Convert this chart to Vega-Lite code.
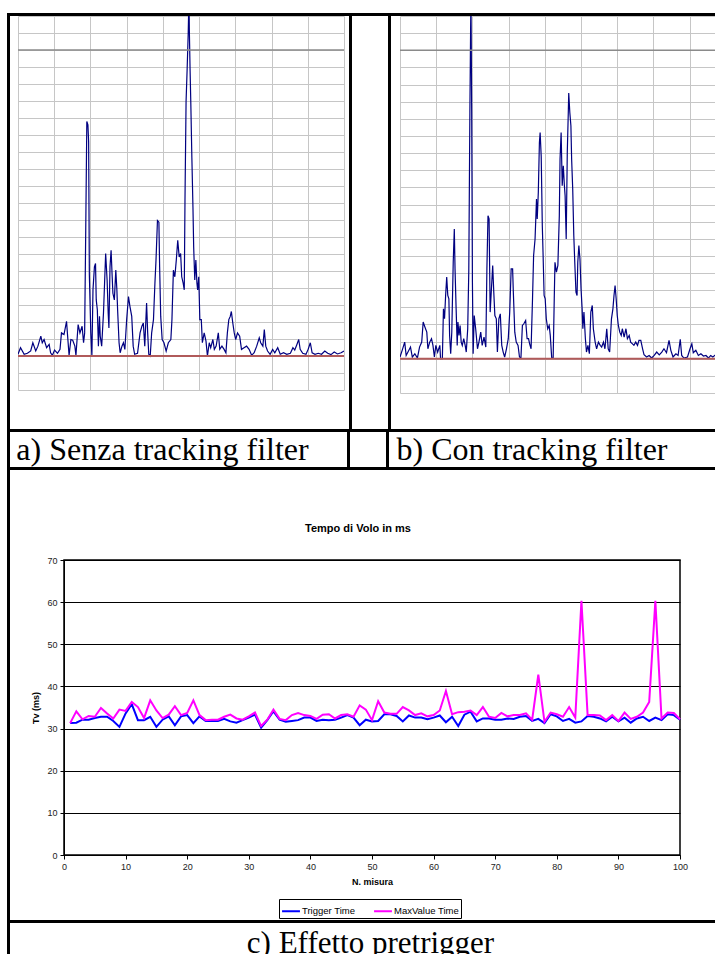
{
"$schema": "https://vega.github.io/schema/vega-lite/v6.json",
"background": "white",
"padding": {"left": 7, "top": 13, "right": 0, "bottom": 0},
"config": {"view": {"stroke": null}, "concat": {"spacing": 0}, "font": "Liberation Sans"},
"datasets": {
"blank": [{"k": 0}],
"waveA": [{"t":0,"a":0.1},{"t":7,"a":0.49},{"t":17,"a":0.1},{"t":26,"a":0.16},{"t":35,"a":0.3},{"t":41,"a":0.78},{"t":49,"a":0.3},{"t":55,"a":0.58},{"t":63,"a":1.17},{"t":67,"a":0.78},{"t":72,"a":0.97},{"t":79,"a":0.49},{"t":86,"a":0.68},{"t":90,"a":0.19},{"t":95,"a":0.04},{"t":101,"a":0.35},{"t":109,"a":0.16},{"t":116,"a":0.39},{"t":120,"a":1.36},{"t":127,"a":1.26},{"t":134,"a":2.04},{"t":137,"a":1.17},{"t":141,"a":0.04},{"t":146,"a":0.97},{"t":151,"a":0.93},{"t":157,"a":0.58},{"t":160,"a":0.04},{"t":166,"a":1.85},{"t":171,"a":1.36},{"t":177,"a":1.75},{"t":181,"a":0.78},{"t":184,"a":1.36},{"t":187,"a":7.39},{"t":190,"a":13.8},{"t":193,"a":13.6},{"t":195,"a":12.6},{"t":197,"a":4.76},{"t":201,"a":1.36},{"t":204,"a":0},{"t":207,"a":3.89},{"t":211,"a":5.25},{"t":214,"a":5.44},{"t":216,"a":3.3},{"t":219,"a":2.72},{"t":222,"a":0.58},{"t":225,"a":2.33},{"t":227,"a":1.17},{"t":231,"a":0.58},{"t":236,"a":2.53},{"t":239,"a":4.28},{"t":242,"a":6.03},{"t":246,"a":4.47},{"t":249,"a":2.53},{"t":251,"a":1.65},{"t":254,"a":5.25},{"t":257,"a":6.22},{"t":260,"a":4.66},{"t":262,"a":3.69},{"t":266,"a":3.3},{"t":270,"a":5.05},{"t":273,"a":3.89},{"t":275,"a":2.72},{"t":279,"a":0.78},{"t":282,"a":0.19},{"t":287,"a":0.58},{"t":291,"a":0.78},{"t":295,"a":0.39},{"t":300,"a":2.14},{"t":305,"a":3.5},{"t":309,"a":2.92},{"t":314,"a":2.33},{"t":318,"a":0.58},{"t":322,"a":0.1},{"t":330,"a":0.16},{"t":337,"a":1.36},{"t":342,"a":1.75},{"t":346,"a":1.94},{"t":350,"a":0.58},{"t":355,"a":3.11},{"t":358,"a":1.36},{"t":361,"a":0.1},{"t":365,"a":0},{"t":369,"a":1.36},{"t":374,"a":2.14},{"t":378,"a":4.28},{"t":381,"a":5.64},{"t":385,"a":7.97},{"t":389,"a":7.87},{"t":391,"a":5.25},{"t":394,"a":2.33},{"t":398,"a":0.97},{"t":403,"a":0.78},{"t":409,"a":0.29},{"t":415,"a":0.78},{"t":422,"a":0.97},{"t":425,"a":2.14},{"t":429,"a":5.05},{"t":433,"a":4.66},{"t":437,"a":5.64},{"t":441,"a":6.8},{"t":445,"a":5.83},{"t":449,"a":6.03},{"t":452,"a":4.66},{"t":456,"a":4.28},{"t":459,"a":3.89},{"t":461,"a":9.14},{"t":464,"a":14.97},{"t":467,"a":16.9},{"t":470,"a":19.05},{"t":472,"a":21.2},{"t":473,"a":19.2},{"t":475,"a":16.9},{"t":477,"a":14.97},{"t":480,"a":11.66},{"t":483,"a":8.75},{"t":485,"a":6.41},{"t":488,"a":4.47},{"t":491,"a":5.64},{"t":494,"a":4.28},{"t":496,"a":3.89},{"t":499,"a":4.66},{"t":502,"a":2.14},{"t":506,"a":2.14},{"t":509,"a":0.78},{"t":514,"a":1.36},{"t":519,"a":0.87},{"t":523,"a":0},{"t":528,"a":0.78},{"t":532,"a":0.49},{"t":538,"a":0.97},{"t":542,"a":0.39},{"t":547,"a":0.58},{"t":553,"a":1.36},{"t":557,"a":0.39},{"t":563,"a":0.58},{"t":569,"a":0.39},{"t":574,"a":0.19},{"t":578,"a":1.36},{"t":582,"a":2.14},{"t":586,"a":2.33},{"t":589,"a":2.62},{"t":593,"a":1.94},{"t":597,"a":1.36},{"t":601,"a":0.97},{"t":606,"a":1.36},{"t":612,"a":1.17},{"t":617,"a":0.39},{"t":624,"a":0.49},{"t":631,"a":0.58},{"t":638,"a":0.39},{"t":645,"a":0.04},{"t":652,"a":0.19},{"t":659,"a":0.58},{"t":666,"a":1.07},{"t":670,"a":0.78},{"t":676,"a":0.58},{"t":680,"a":1.55},{"t":684,"a":0.58},{"t":689,"a":0.29},{"t":696,"a":0.1},{"t":703,"a":0.39},{"t":709,"a":0.19},{"t":717,"a":0.49},{"t":724,"a":0.1},{"t":733,"a":0.19},{"t":742,"a":0.1},{"t":752,"a":0.16},{"t":759,"a":0.49},{"t":764,"a":0.35},{"t":770,"a":0.68},{"t":775,"a":0.97},{"t":779,"a":0.39},{"t":786,"a":0.16},{"t":795,"a":0.1},{"t":801,"a":0.39},{"t":807,"a":0.78},{"t":812,"a":0.19},{"t":820,"a":0.1},{"t":829,"a":0.16},{"t":838,"a":0.1},{"t":847,"a":0.29},{"t":855,"a":0.16},{"t":864,"a":0.08},{"t":873,"a":0.23},{"t":882,"a":0.12},{"t":892,"a":0.19},{"t":900,"a":0.29}],
"waveB": [{"t":0,"a":0.1},{"t":6,"a":0.49},{"t":13,"a":0.97},{"t":17,"a":0.19},{"t":22,"a":0.39},{"t":29,"a":0.68},{"t":34,"a":0.1},{"t":41,"a":0.29},{"t":48,"a":0.04},{"t":54,"a":0.68},{"t":60,"a":0.97},{"t":64,"a":2.14},{"t":69,"a":1.84},{"t":74,"a":1.55},{"t":77,"a":0.58},{"t":82,"a":0.97},{"t":87,"a":1.17},{"t":91,"a":0.78},{"t":95,"a":0.1},{"t":99,"a":0.78},{"t":104,"a":0.39},{"t":110,"a":0.78},{"t":112,"a":0},{"t":117,"a":0},{"t":120,"a":2.91},{"t":123,"a":2.33},{"t":126,"a":3.69},{"t":129,"a":4.76},{"t":132,"a":3.69},{"t":135,"a":3.5},{"t":137,"a":1.36},{"t":140,"a":0.29},{"t":143,"a":1.55},{"t":147,"a":5.63},{"t":150,"a":7.57},{"t":152,"a":5.24},{"t":155,"a":2.91},{"t":158,"a":0.78},{"t":160,"a":2.14},{"t":163,"a":1.36},{"t":166,"a":1.94},{"t":169,"a":0.97},{"t":172,"a":0.78},{"t":176,"a":1.17},{"t":180,"a":0.78},{"t":183,"a":0.39},{"t":187,"a":1.75},{"t":190,"a":5.15},{"t":193,"a":14.4},{"t":195,"a":19.2},{"t":196,"a":21},{"t":198,"a":14.4},{"t":200,"a":4.47},{"t":202,"a":0.29},{"t":205,"a":2.52},{"t":209,"a":1.75},{"t":214,"a":0.58},{"t":218,"a":0.97},{"t":223,"a":1.55},{"t":227,"a":0.78},{"t":232,"a":1.26},{"t":237,"a":0.68},{"t":240,"a":5.24},{"t":243,"a":8.35},{"t":246,"a":8.16},{"t":249,"a":2.72},{"t":252,"a":3.88},{"t":256,"a":5.44},{"t":259,"a":3.88},{"t":262,"a":2.52},{"t":266,"a":2.33},{"t":269,"a":0.39},{"t":273,"a":2.33},{"t":277,"a":2.62},{"t":281,"a":0.78},{"t":285,"a":0.39},{"t":289,"a":0.1},{"t":294,"a":0.58},{"t":299,"a":1.17},{"t":303,"a":2.72},{"t":307,"a":5.24},{"t":311,"a":5.24},{"t":313,"a":3.88},{"t":317,"a":1.55},{"t":321,"a":0.97},{"t":326,"a":0.78},{"t":330,"a":0.1},{"t":334,"a":0.04},{"t":338,"a":1.94},{"t":342,"a":2.04},{"t":347,"a":2.23},{"t":351,"a":1.17},{"t":355,"a":1.17},{"t":358,"a":0.87},{"t":362,"a":0.58},{"t":366,"a":3.5},{"t":369,"a":6.02},{"t":373,"a":6.99},{"t":377,"a":9.32},{"t":379,"a":8.16},{"t":382,"a":9.71},{"t":385,"a":12.6},{"t":387,"a":13.2},{"t":390,"a":11.8},{"t":393,"a":7.77},{"t":395,"a":6.21},{"t":398,"a":3.69},{"t":401,"a":3.5},{"t":404,"a":2.33},{"t":408,"a":1.75},{"t":412,"a":1.94},{"t":415,"a":1.36},{"t":419,"a":0.04},{"t":423,"a":0.04},{"t":426,"a":3.5},{"t":428,"a":5.63},{"t":432,"a":5.05},{"t":436,"a":5.44},{"t":440,"a":8.35},{"t":442,"a":11.65},{"t":445,"a":13.2},{"t":448,"a":10.1},{"t":451,"a":11.26},{"t":454,"a":10.1},{"t":456,"a":9.51},{"t":459,"a":6.99},{"t":462,"a":12.04},{"t":465,"a":14.56},{"t":466,"a":15.5},{"t":469,"a":14.37},{"t":472,"a":13.6},{"t":474,"a":11.65},{"t":477,"a":9.9},{"t":480,"a":7.18},{"t":483,"a":5.44},{"t":486,"a":3.88},{"t":489,"a":3.69},{"t":491,"a":5.63},{"t":494,"a":6.6},{"t":497,"a":5.83},{"t":500,"a":4.08},{"t":503,"a":2.91},{"t":505,"a":1.75},{"t":508,"a":2.72},{"t":512,"a":1.17},{"t":515,"a":0.39},{"t":519,"a":0.78},{"t":523,"a":0.29},{"t":527,"a":2.72},{"t":531,"a":3.11},{"t":534,"a":1.75},{"t":539,"a":0.97},{"t":543,"a":0.58},{"t":548,"a":0.97},{"t":553,"a":0.78},{"t":557,"a":0.68},{"t":562,"a":0.97},{"t":566,"a":0.58},{"t":571,"a":1.75},{"t":575,"a":0.58},{"t":579,"a":0.39},{"t":584,"a":2.33},{"t":588,"a":2.91},{"t":591,"a":3.69},{"t":594,"a":4.27},{"t":597,"a":3.5},{"t":600,"a":2.52},{"t":603,"a":1.94},{"t":607,"a":1.55},{"t":611,"a":1.36},{"t":614,"a":1.75},{"t":619,"a":1.26},{"t":624,"a":1.75},{"t":628,"a":1.17},{"t":633,"a":1.36},{"t":637,"a":0.97},{"t":642,"a":0.87},{"t":646,"a":0.78},{"t":651,"a":0.97},{"t":656,"a":0.78},{"t":660,"a":1.07},{"t":665,"a":1.07},{"t":670,"a":0.58},{"t":674,"a":0.23},{"t":681,"a":0.1},{"t":688,"a":0.19},{"t":695,"a":0.04},{"t":702,"a":0.19},{"t":709,"a":0.39},{"t":716,"a":0.23},{"t":723,"a":0.39},{"t":729,"a":0.58},{"t":736,"a":0.35},{"t":743,"a":1.07},{"t":748,"a":0.49},{"t":754,"a":0.1},{"t":762,"a":0.29},{"t":768,"a":0.19},{"t":774,"a":1.13},{"t":778,"a":0.19},{"t":784,"a":0.04},{"t":794,"a":0.1},{"t":801,"a":0.58},{"t":806,"a":0.87},{"t":810,"a":0.35},{"t":817,"a":0.49},{"t":824,"a":0.19},{"t":831,"a":0.29},{"t":838,"a":0.16},{"t":845,"a":0.19},{"t":852,"a":0.04},{"t":858,"a":0.19},{"t":864,"a":0.1},{"t":872,"a":0.23},{"t":879,"a":0.16}],
"tv": [{"n":1,"Trigger Time":31.3,"MaxValue Time":31.3},{"n":2,"Trigger Time":31.4,"MaxValue Time":34.1},{"n":3,"Trigger Time":32.1,"MaxValue Time":32.2},{"n":4,"Trigger Time":32.1,"MaxValue Time":33.0},{"n":5,"Trigger Time":32.5,"MaxValue Time":32.8},{"n":6,"Trigger Time":32.8,"MaxValue Time":34.9},{"n":7,"Trigger Time":32.8,"MaxValue Time":33.6},{"n":8,"Trigger Time":31.8,"MaxValue Time":32.4},{"n":9,"Trigger Time":30.4,"MaxValue Time":34.5},{"n":10,"Trigger Time":33.6,"MaxValue Time":34.2},{"n":11,"Trigger Time":35.8,"MaxValue Time":36.3},{"n":12,"Trigger Time":32.0,"MaxValue Time":35.1},{"n":13,"Trigger Time":32.0,"MaxValue Time":32.5},{"n":14,"Trigger Time":32.8,"MaxValue Time":36.7},{"n":15,"Trigger Time":30.4,"MaxValue Time":34.3},{"n":16,"Trigger Time":32.1,"MaxValue Time":32.5},{"n":17,"Trigger Time":32.9,"MaxValue Time":33.3},{"n":18,"Trigger Time":30.8,"MaxValue Time":35.3},{"n":19,"Trigger Time":32.9,"MaxValue Time":33.2},{"n":20,"Trigger Time":33.2,"MaxValue Time":33.7},{"n":21,"Trigger Time":31.3,"MaxValue Time":36.7},{"n":22,"Trigger Time":32.9,"MaxValue Time":33.2},{"n":23,"Trigger Time":31.8,"MaxValue Time":32.0},{"n":24,"Trigger Time":31.8,"MaxValue Time":32.1},{"n":25,"Trigger Time":31.8,"MaxValue Time":32.1},{"n":26,"Trigger Time":32.3,"MaxValue Time":32.8},{"n":27,"Trigger Time":31.7,"MaxValue Time":33.3},{"n":28,"Trigger Time":31.4,"MaxValue Time":32.4},{"n":29,"Trigger Time":32.0,"MaxValue Time":32.1},{"n":30,"Trigger Time":32.6,"MaxValue Time":32.9},{"n":31,"Trigger Time":33.3,"MaxValue Time":33.8},{"n":32,"Trigger Time":30.2,"MaxValue Time":30.6},{"n":33,"Trigger Time":32.0,"MaxValue Time":32.1},{"n":34,"Trigger Time":34.1,"MaxValue Time":34.5},{"n":35,"Trigger Time":32.1,"MaxValue Time":32.3},{"n":36,"Trigger Time":31.6,"MaxValue Time":32.0},{"n":37,"Trigger Time":31.8,"MaxValue Time":33.2},{"n":38,"Trigger Time":32.0,"MaxValue Time":33.7},{"n":39,"Trigger Time":32.6,"MaxValue Time":33.2},{"n":40,"Trigger Time":32.6,"MaxValue Time":33.0},{"n":41,"Trigger Time":31.8,"MaxValue Time":32.3},{"n":42,"Trigger Time":32.1,"MaxValue Time":33.3},{"n":43,"Trigger Time":32.0,"MaxValue Time":33.4},{"n":44,"Trigger Time":32.1,"MaxValue Time":32.4},{"n":45,"Trigger Time":32.6,"MaxValue Time":33.2},{"n":46,"Trigger Time":33.2,"MaxValue Time":33.4},{"n":47,"Trigger Time":32.6,"MaxValue Time":32.8},{"n":48,"Trigger Time":30.8,"MaxValue Time":35.5},{"n":49,"Trigger Time":32.1,"MaxValue Time":34.5},{"n":50,"Trigger Time":31.7,"MaxValue Time":32.0},{"n":51,"Trigger Time":31.8,"MaxValue Time":36.5},{"n":52,"Trigger Time":33.4,"MaxValue Time":33.8},{"n":53,"Trigger Time":33.4,"MaxValue Time":33.5},{"n":54,"Trigger Time":33.0,"MaxValue Time":33.5},{"n":55,"Trigger Time":31.7,"MaxValue Time":35.1},{"n":56,"Trigger Time":33.1,"MaxValue Time":34.3},{"n":57,"Trigger Time":32.6,"MaxValue Time":33.2},{"n":58,"Trigger Time":32.6,"MaxValue Time":33.6},{"n":59,"Trigger Time":32.2,"MaxValue Time":32.9},{"n":60,"Trigger Time":32.6,"MaxValue Time":33.2},{"n":61,"Trigger Time":33.1,"MaxValue Time":34.3},{"n":62,"Trigger Time":31.5,"MaxValue Time":38.9},{"n":63,"Trigger Time":32.8,"MaxValue Time":33.4},{"n":64,"Trigger Time":30.6,"MaxValue Time":33.9},{"n":65,"Trigger Time":33.3,"MaxValue Time":34.0},{"n":66,"Trigger Time":34.0,"MaxValue Time":34.3},{"n":67,"Trigger Time":31.7,"MaxValue Time":33.2},{"n":68,"Trigger Time":32.4,"MaxValue Time":35.1},{"n":69,"Trigger Time":32.4,"MaxValue Time":32.8},{"n":70,"Trigger Time":32.1,"MaxValue Time":32.5},{"n":71,"Trigger Time":32.1,"MaxValue Time":33.7},{"n":72,"Trigger Time":32.4,"MaxValue Time":32.9},{"n":73,"Trigger Time":32.3,"MaxValue Time":33.2},{"n":74,"Trigger Time":32.8,"MaxValue Time":33.2},{"n":75,"Trigger Time":33.0,"MaxValue Time":33.6},{"n":76,"Trigger Time":31.8,"MaxValue Time":32.1},{"n":77,"Trigger Time":32.3,"MaxValue Time":42.8},{"n":78,"Trigger Time":31.3,"MaxValue Time":31.6},{"n":79,"Trigger Time":33.4,"MaxValue Time":33.8},{"n":80,"Trigger Time":32.9,"MaxValue Time":33.4},{"n":81,"Trigger Time":31.8,"MaxValue Time":32.8},{"n":82,"Trigger Time":32.3,"MaxValue Time":35.1},{"n":83,"Trigger Time":31.4,"MaxValue Time":32.6},{"n":84,"Trigger Time":31.7,"MaxValue Time":60.3},{"n":85,"Trigger Time":33.0,"MaxValue Time":33.2},{"n":86,"Trigger Time":32.8,"MaxValue Time":33.2},{"n":87,"Trigger Time":32.4,"MaxValue Time":33.1},{"n":88,"Trigger Time":31.7,"MaxValue Time":32.0},{"n":89,"Trigger Time":32.8,"MaxValue Time":33.2},{"n":90,"Trigger Time":31.7,"MaxValue Time":31.8},{"n":91,"Trigger Time":32.6,"MaxValue Time":33.8},{"n":92,"Trigger Time":31.4,"MaxValue Time":32.3},{"n":93,"Trigger Time":32.4,"MaxValue Time":32.8},{"n":94,"Trigger Time":32.8,"MaxValue Time":33.8},{"n":95,"Trigger Time":31.8,"MaxValue Time":36.3},{"n":96,"Trigger Time":32.6,"MaxValue Time":60.3},{"n":97,"Trigger Time":32.0,"MaxValue Time":32.4},{"n":98,"Trigger Time":33.4,"MaxValue Time":33.8},{"n":99,"Trigger Time":33.2,"MaxValue Time":33.7},{"n":100,"Trigger Time":32.1,"MaxValue Time":32.2}]
},
"spacing": 0,
"resolve": {"scale": {"color": "independent"}, "legend": {"color": "independent"}},
"vconcat": [
 {"width": 708, "height": 3, "view": {"fill": "black", "stroke": null}, "data": {"name": "blank"}, "mark": {"type": "point", "size": 0, "opacity": 0, "strokeWidth": 0, "filled": true}},
 {"spacing": 0, "hconcat": [
  {"width": 3, "height": 413, "view": {"fill": "black", "stroke": null}, "data": {"name": "blank"}, "mark": {"type": "point", "size": 0, "opacity": 0, "strokeWidth": 0, "filled": true}},
  {"width": 7, "height": 1, "data": {"name": "blank"}, "mark": {"type": "point", "size": 0, "opacity": 0, "strokeWidth": 0, "filled": true}},
  {"width": 326, "height": 374,
   "encoding": {"y": {"field": "a", "type": "quantitative", "scale": {"domain": [-2, 20], "nice": false, "zero": false},
     "axis": {"values": [-2,-1,0,1,2,3,4,5,6,7,8,9,10,11,12,13,14,15,16,17,18,19,20], "grid": true, "gridColor": "#c6c6c6", "gridWidth": 1, "labels": false, "ticks": false, "domain": false, "title": null, "minExtent": 0}}},
   "layer": [
    {"data": {"name": "waveA"}, "mark": {"type": "line", "color": "#000080", "strokeWidth": 1.2, "clip": true},
     "encoding": {"x": {"field": "t", "type": "quantitative", "scale": {"domain": [0, 900], "nice": false, "zero": false},
       "axis": {"values": [0,100,200,300,400,500,600,700,800,900], "grid": true, "gridColor": "#c6c6c6", "gridWidth": 1, "labels": false, "ticks": false, "domain": false, "title": null, "minExtent": 0}}}},
    {"data": {"values": [{"a": 18}]}, "mark": {"type": "rule", "color": "#8a8a8a", "strokeWidth": 1.5}},
    {"data": {"values": [{"a": 0}]}, "mark": {"type": "rule", "color": "#b05a5a", "strokeWidth": 2}}
   ]},
  {"width": 3.5, "height": 1, "data": {"name": "blank"}, "mark": {"type": "point", "size": 0, "opacity": 0, "strokeWidth": 0, "filled": true}},
  {"width": 3, "height": 413, "view": {"fill": "black", "stroke": null}, "data": {"name": "blank"}, "mark": {"type": "point", "size": 0, "opacity": 0, "strokeWidth": 0, "filled": true}},
  {"width": 36, "height": 1, "data": {"name": "blank"}, "mark": {"type": "point", "size": 0, "opacity": 0, "strokeWidth": 0, "filled": true}},
  {"width": 3, "height": 413, "view": {"fill": "black", "stroke": null}, "data": {"name": "blank"}, "mark": {"type": "point", "size": 0, "opacity": 0, "strokeWidth": 0, "filled": true}},
  {"width": 7.5, "height": 1, "data": {"name": "blank"}, "mark": {"type": "point", "size": 0, "opacity": 0, "strokeWidth": 0, "filled": true}},
  {"width": 319, "height": 377,
   "encoding": {"y": {"field": "a", "type": "quantitative", "scale": {"domain": [-2, 20], "nice": false, "zero": false},
     "axis": {"values": [-2,-1,0,1,2,3,4,5,6,7,8,9,10,11,12,13,14,15,16,17,18,19,20], "grid": true, "gridColor": "#c6c6c6", "gridWidth": 1, "labels": false, "ticks": false, "domain": false, "title": null, "minExtent": 0}}},
   "layer": [
    {"data": {"name": "waveB"}, "mark": {"type": "line", "color": "#000080", "strokeWidth": 1.2, "clip": true},
     "encoding": {"x": {"field": "t", "type": "quantitative", "scale": {"domain": [0, 881], "nice": false, "zero": false},
       "axis": {"values": [0,100,200,300,400,500,600,700,800], "grid": true, "gridColor": "#c6c6c6", "gridWidth": 1, "labels": false, "ticks": false, "domain": false, "title": null, "minExtent": 0}}}},
    {"data": {"values": [{"a": 18}]}, "mark": {"type": "rule", "color": "#8a8a8a", "strokeWidth": 1.5}},
    {"data": {"values": [{"a": 0}]}, "mark": {"type": "rule", "color": "#b05a5a", "strokeWidth": 2}}
   ]}
 ]},
 {"width": 708, "height": 3, "view": {"fill": "black", "stroke": null}, "data": {"name": "blank"}, "mark": {"type": "point", "size": 0, "opacity": 0, "strokeWidth": 0, "filled": true}},
 {"spacing": 0, "hconcat": [
  {"width": 3, "height": 35, "view": {"fill": "black", "stroke": null}, "data": {"name": "blank"}, "mark": {"type": "point", "size": 0, "opacity": 0, "strokeWidth": 0, "filled": true}},
  {"width": 305, "height": 35, "data": {"values": [{"label": "a) Senza tracking filter"}]}, "mark": {"type": "text", "font": "Liberation Serif", "fontSize": 32, "baseline": "alphabetic", "dy": 10, "color": "black", "clip": true}, "encoding": {"text": {"field": "label"}}},
  {"width": 31.5, "height": 1, "data": {"name": "blank"}, "mark": {"type": "point", "size": 0, "opacity": 0, "strokeWidth": 0, "filled": true}},
  {"width": 3, "height": 35, "view": {"fill": "black", "stroke": null}, "data": {"name": "blank"}, "mark": {"type": "point", "size": 0, "opacity": 0, "strokeWidth": 0, "filled": true}},
  {"width": 36, "height": 1, "data": {"name": "blank"}, "mark": {"type": "point", "size": 0, "opacity": 0, "strokeWidth": 0, "filled": true}},
  {"width": 3, "height": 35, "view": {"fill": "black", "stroke": null}, "data": {"name": "blank"}, "mark": {"type": "point", "size": 0, "opacity": 0, "strokeWidth": 0, "filled": true}},
  {"width": 286, "height": 35, "data": {"values": [{"label": "b) Con tracking filter"}]}, "mark": {"type": "text", "font": "Liberation Serif", "fontSize": 32, "baseline": "alphabetic", "dy": 10, "color": "black", "clip": true}, "encoding": {"text": {"field": "label"}}}
 ]},
 {"width": 708, "height": 3, "view": {"fill": "black", "stroke": null}, "data": {"name": "blank"}, "mark": {"type": "point", "size": 0, "opacity": 0, "strokeWidth": 0, "filled": true}},
 {"spacing": 0,
  "resolve": {"scale": {"color": "independent"}, "legend": {"color": "independent"}},
  "hconcat": [
  {"width": 3, "height": 450, "view": {"fill": "black", "stroke": null}, "data": {"name": "blank"}, "mark": {"type": "point", "size": 0, "opacity": 0, "strokeWidth": 0, "filled": true}},
  {"width": 21, "height": 1, "data": {"name": "blank"}, "mark": {"type": "point", "size": 0, "opacity": 0, "strokeWidth": 0, "filled": true}},
  {"spacing": 0,
   "resolve": {"scale": {"color": "independent"}, "legend": {"color": "independent"}},
   "vconcat": [
   {"width": 1, "height": 51.5, "data": {"name": "blank"}, "mark": {"type": "point", "size": 0, "opacity": 0, "strokeWidth": 0, "filled": true}},
   {"width": 616, "height": 295,
    "view": {"stroke": "black", "strokeWidth": 1.5},
    "title": {"text": "Tempo di Volo in ms", "font": "Liberation Sans", "fontSize": 11, "fontWeight": "bold", "color": "black", "anchor": "middle", "offset": 22, "dx": -14},
    "data": {"name": "tv"},
    "transform": [{"fold": ["Trigger Time", "MaxValue Time"], "as": ["serie", "tv"]}],
    "mark": {"type": "line", "strokeWidth": 2},
    "encoding": {
     "x": {"field": "n", "type": "quantitative", "scale": {"domain": [0, 100], "nice": false, "zero": false},
       "axis": {"values": [0,10,20,30,40,50,60,70,80,90,100], "grid": false, "tickSize": 4, "tickColor": "black", "domainColor": "black", "labelFont": "Liberation Sans", "labelFontSize": 9, "labelColor": "#222222", "labelPadding": 3, "labelAngle": 0, "labelFlush": false, "title": "N. misura", "titleFont": "Liberation Sans", "titleFontSize": 9, "titleFontWeight": "bold", "titleColor": "black", "titlePadding": 6}},
     "y": {"field": "tv", "type": "quantitative", "scale": {"domain": [0, 70], "nice": false},
       "axis": {"values": [0,10,20,30,40,50,60,70], "grid": true, "gridColor": "black", "gridWidth": 1, "tickSize": 4, "tickColor": "black", "domainColor": "black", "labelFont": "Liberation Sans", "labelFontSize": 9, "labelColor": "#222222", "labelPadding": 3, "labelFlush": false, "title": "Tv (ms)", "titleFont": "Liberation Sans", "titleFontSize": 9, "titleFontWeight": "bold", "titleColor": "black", "titlePadding": 6}},
     "color": {"field": "serie", "type": "nominal", "sort": ["Trigger Time", "MaxValue Time"],
       "scale": {"domain": ["Trigger Time", "MaxValue Time"], "range": ["#0000ff", "#ff00ff"]},
       "legend": {"orient": "none", "legendX": 215, "legendY": 339, "direction": "horizontal", "title": null, "strokeColor": "black", "fillColor": "white", "padding": 2, "symbolType": "stroke", "symbolSize": 320, "symbolStrokeWidth": 2, "labelFont": "Liberation Sans", "labelFontSize": 9.5, "labelColor": "black", "labelOffset": 1, "columnPadding": 14}}
    }}
  ]}
 ]},
 {"width": 708, "height": 3, "view": {"fill": "black", "stroke": null}, "data": {"name": "blank"}, "mark": {"type": "point", "size": 0, "opacity": 0, "strokeWidth": 0, "filled": true}},
 {"spacing": 0, "hconcat": [
  {"width": 3, "height": 31, "view": {"fill": "black", "stroke": null}, "data": {"name": "blank"}, "mark": {"type": "point", "size": 0, "opacity": 0, "strokeWidth": 0, "filled": true}},
  {"width": 20, "height": 1, "data": {"name": "blank"}, "mark": {"type": "point", "size": 0, "opacity": 0, "strokeWidth": 0, "filled": true}},
  {"width": 681, "height": 31, "data": {"values": [{"label": "c) Effetto pretrigger"}]}, "mark": {"type": "text", "font": "Liberation Serif", "fontSize": 31, "baseline": "alphabetic", "dy": 14, "color": "black", "clip": true}, "encoding": {"text": {"field": "label"}}}
 ]}
]
}
